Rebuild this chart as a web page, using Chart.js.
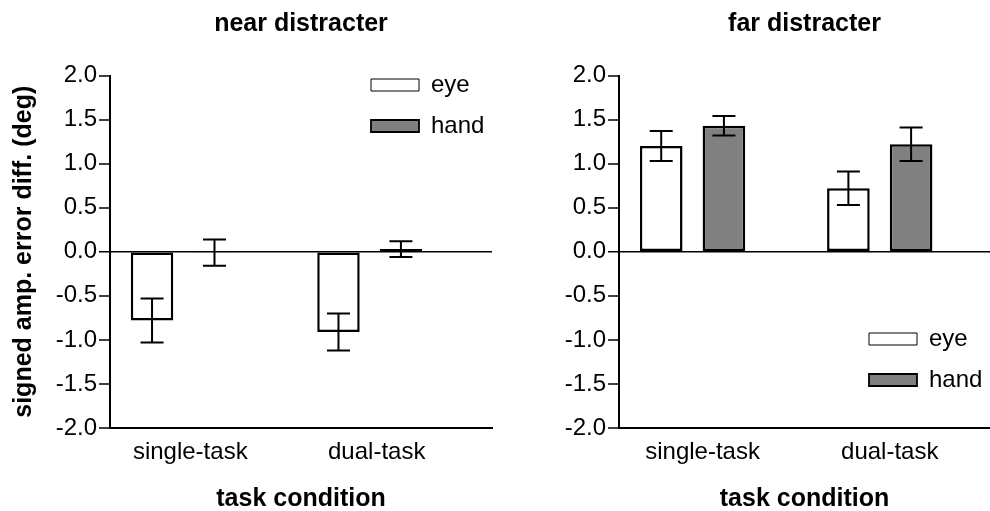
<!DOCTYPE html>
<html><head><meta charset="utf-8">
<script src="https://cdn.jsdelivr.net/npm/chart.js@4.4.0/dist/chart.umd.min.js"></script>
<style>
html,body{margin:0;padding:0;background:#fff;}
#wrap{position:relative;width:990px;height:511px;overflow:hidden;}
canvas{position:absolute;top:0;}
#c1{left:0;} #c2{left:495px;}
</style></head><body>
<div id="wrap"><canvas id="c1" width="495" height="511"></canvas><canvas id="c2" width="495" height="511"></canvas></div>
<script>
// ---- data ----
const categories = ['single-task', 'dual-task'];
const seriesNames = ['eye', 'hand'];
const nearEye = [-0.78, -0.91];
const nearHand = [-0.01, 0.03];
const nearEyeErr = [0.25, 0.21];
const nearHandErr = [0.15, 0.09];
const farEye = [1.20, 0.72];
const farHand = [1.43, 1.22];
const farEyeErr = [0.17, 0.19];
const farHandErr = [0.11, 0.19];
const yTicks = [-2.0, -1.5, -1.0, -0.5, 0.0, 0.5, 1.0, 1.5, 2.0];
const panelTitles = ['near distracter', 'far distracter'];
const xTitle = 'task condition';
const yTitle = 'signed amp. error diff. (deg)';

const FAM = "'Liberation Sans', Arial, Helvetica, sans-serif";
Chart.defaults.font.family = FAM;
Chart.defaults.color = '#000';

const LEG_FS = 24, LEG_BH = 12, LEG_PAD = 17;

const legendMover = {
  id: 'legendMover',
  afterLayout(chart, args, opts) {
    const lg = chart.legend; if (!lg) return;
    lg.left = opts.x - LEG_PAD;
    lg.top = opts.y - LEG_PAD - Math.max((LEG_FS - LEG_BH) / 2, 0);
    lg.right = lg.left + lg.width;
    lg.bottom = lg.top + lg.height;
  }
};

const errorBars = {
  id: 'errorBars',
  afterDatasetsDraw(chart, args, opts) {
    const ctx = chart.ctx, ys = chart.scales.y, cap = opts.cap || 23;
    chart.data.datasets.forEach((ds, di) => {
      const meta = chart.getDatasetMeta(di);
      meta.data.forEach((bar, j) => {
        const v = ds.data[j].y, e = ds.errors[j];
        const x = bar.x;
        const y1 = ys.getPixelForValue(v + e), y2 = ys.getPixelForValue(v - e);
        ctx.save();
        ctx.strokeStyle = '#000'; ctx.lineWidth = 2;
        ctx.beginPath();
        ctx.moveTo(x, y1); ctx.lineTo(x, y2);
        ctx.moveTo(x - cap / 2, y1); ctx.lineTo(x + cap / 2, y1);
        ctx.moveTo(x - cap / 2, y2); ctx.lineTo(x + cap / 2, y2);
        ctx.stroke();
        ctx.restore();
      });
    });
  }
};

function makeChart(id, cfg) {
  const toPts = arr => arr.map((v, i) => ({ x: i, y: v }));
  return new Chart(document.getElementById(id), {
    type: 'bar',
    data: {
      datasets: [
        { label: seriesNames[0], data: toPts(cfg.eye), errors: cfg.eyeErr,
          backgroundColor: '#ffffff', borderColor: '#000', borderWidth: 2.5, borderSkipped: false,
          categoryPercentage: 0.67, barPercentage: 0.68 },
        { label: seriesNames[1], data: toPts(cfg.hand), errors: cfg.handErr,
          backgroundColor: '#808080', borderColor: '#000', borderWidth: 2.5, borderSkipped: false,
          categoryPercentage: 0.67, barPercentage: 0.68 }
      ]
    },
    options: {
      responsive: false,
      animation: false,
      devicePixelRatio: 1,
      layout: { padding: { left: 0, right: cfg.padRight, top: 0, bottom: 0 } },
      scales: {
        x: {
          type: 'linear', min: -0.393, max: cfg.xMax, offset: false, bounds: 'data',
          afterBuildTicks: s => { s.ticks = categories.map((c, i) => ({ value: i })); },
          afterFit: s => { s.height = 83; },
          ticks: { callback: (v, i) => categories[i], autoSkip: false, maxRotation: 0,
                   color: '#000', font: { size: 24 }, padding: 10, labelOffset: cfg.labelOffset },
          grid: { display: false, drawTicks: false, offset: false },
          border: { display: true, color: '#000', width: 2 },
          title: { display: true, text: xTitle, color: '#000',
                   font: { size: 25, weight: 'bold', lineHeight: 1 }, padding: { top: 0, bottom: -1 } }
        },
        y: {
          min: yTicks[0], max: yTicks[yTicks.length - 1],
          afterBuildTicks: s => { s.ticks = yTicks.map(v => ({ value: v })); },
          afterFit: s => { s.width = cfg.yWidth; },
          ticks: { callback: v => v.toFixed(1), color: '#000', font: { size: 24 }, padding: 2 },
          grid: {
            drawOnChartArea: true,
            color: c => (c.tick && c.tick.value === 0) ? '#000' : 'rgba(0,0,0,0)',
            lineWidth: c => (c.tick && c.tick.value === 0) ? 1.5 : 0,
            tickColor: '#000', tickWidth: 1.5, tickLength: 11
          },
          border: { display: true, color: '#000', width: 2 },
          title: { display: cfg.showYTitle, text: yTitle, color: '#000',
                   font: { size: 25, weight: 'bold' }, padding: { top: 9, bottom: 0 } }
        }
      },
      plugins: {
        title: { display: true, text: cfg.title, fullSize: false, color: '#000',
                 font: { size: 25, weight: 'bold' }, padding: { top: 9, bottom: 36.5 } },
        legend: {
          position: 'chartArea', align: 'start',
          labels: {
            color: '#000', font: { size: LEG_FS }, boxWidth: 48, boxHeight: LEG_BH, padding: LEG_PAD,
            generateLabels: ch => ch.data.datasets.map((ds, i) => ({
              text: ds.label, fillStyle: ds.backgroundColor, strokeStyle: '#000',
              lineWidth: i === 0 ? 1 : 1.8, hidden: false, datasetIndex: i
            }))
          }
        },
        tooltip: { enabled: false },
        legendMover: cfg.legend,
        errorBars: { cap: 23 }
      }
    },
    plugins: [legendMover, errorBars]
  });
}

makeChart('c1', { title: panelTitles[0], eye: nearEye, hand: nearHand, eyeErr: nearEyeErr, handErr: nearHandErr,
  showYTitle: true, yWidth: 110, xMax: 1.656, padRight: 3, labelOffset: 7, legend: { x: 371, y: 79 } });
makeChart('c2', { title: panelTitles[1], eye: farEye, hand: farHand, eyeErr: farEyeErr, handErr: farHandErr,
  showYTitle: false, yWidth: 124, xMax: 1.589, padRight: 0, labelOffset: 10, legend: { x: 374, y: 333 } });
</script>
</body></html>
